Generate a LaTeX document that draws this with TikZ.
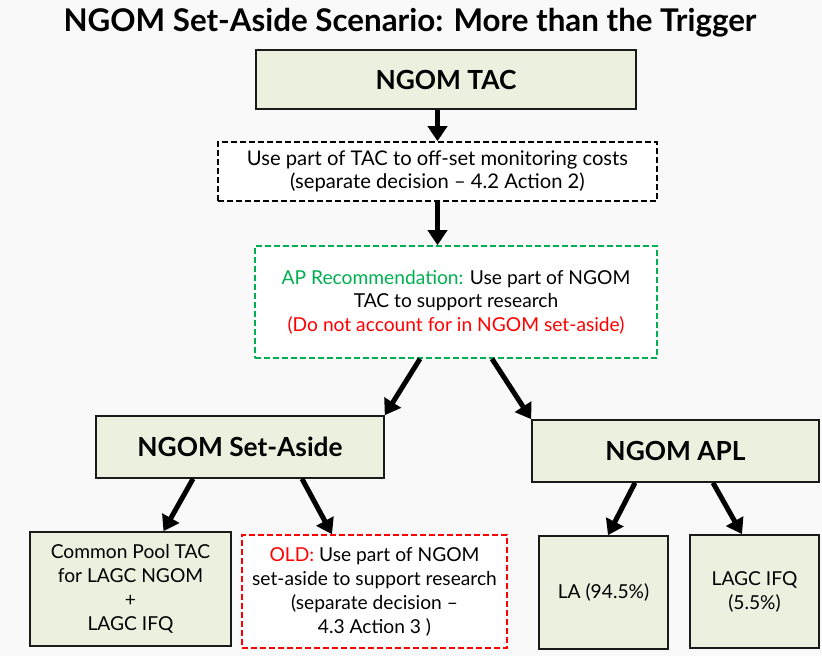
\documentclass[tikz,border=0pt]{standalone}
\usepackage{fontspec}
\setmainfont{Lato}
\usetikzlibrary{arrows.meta,calc}
\definecolor{boxfill}{HTML}{EBF1DE}
\definecolor{apgreen}{HTML}{00B050}
\definecolor{bgcol}{HTML}{F9F9F9}
\definecolor{edge}{HTML}{1A1A1A}
\begin{document}
\begin{tikzpicture}[x=1pt,y=-1pt,
  solidbox/.style={draw=edge, line width=1.6pt, fill=boxfill, inner sep=0pt, align=center},
  dashbox/.style={line width=1.6pt, fill=white, inner sep=0pt, align=center, dash pattern=on 6pt off 3pt},
  arr/.style={line width=5pt, -{Triangle[width=19pt,length=15pt]}},
  body/.style={font=\fontsize{19.2}{24}\selectfont},
  head/.style={font=\bfseries\fontsize{26.3}{30}\selectfont},
  ]
\fill[bgcol] (0,0) rectangle (822,656);
\useasboundingbox (0,0) rectangle (822,656);
\node[font=\bfseries\fontsize{31.3}{34}\selectfont] (title) at (410,23) {NGOM Set-Aside Scenario: More than the Trigger};
\node[solidbox, head, minimum width=380pt, minimum height=59pt] (tac) at (446,79.5) {NGOM TAC};
\node[dashbox, draw=black, font=\fontsize{20.2}{23.5}\selectfont, minimum width=439pt, minimum height=59pt] (mon) at (437.5,171.5) {Use part of TAC to off-set monitoring costs\\(separate decision -- 4.2 Action 2)};
\node[dashbox, draw=apgreen, font=\fontsize{19.2}{23.5}\selectfont, minimum width=402pt, minimum height=112pt] (ap) at (456,302) {\textcolor{apgreen}{AP Recommendation:} Use part of NGOM\\TAC to support research\\\textcolor{red}{(Do not account for in NGOM set-aside)}};
\node[solidbox, head, minimum width=288pt, minimum height=62pt] (sa) at (240,447) {NGOM Set-Aside};
\node[solidbox, head, minimum width=287pt, minimum height=62pt] (apl) at (675.5,451) {NGOM APL};
\node[solidbox, body, minimum width=201pt, minimum height=114pt] (cp) at (130.5,589) {Common Pool TAC\\for LAGC NGOM\\+\\LAGC IFQ};
\node[dashbox, draw=red, body, minimum width=265pt, minimum height=113pt] (old) at (374.5,591.5) {\textcolor{red}{OLD:} Use part of NGOM\\set-aside to support research\\(separate decision --\\4.3 Action 3 )};
\node[solidbox, body, minimum width=129pt, minimum height=113pt] (la) at (603.5,592.5) {LA (94.5\%)};
\node[solidbox, body, minimum width=129pt, minimum height=113pt] (ifq) at (754.5,591.5) {LAGC IFQ\\(5.5\%)};
\draw[arr] (tac.south -| mon.north) -- (mon.north);
\draw[arr] (mon.south) -- (mon.south |- ap.north);
\draw[arr] ([xshift=-36pt]ap.south) -- (sa.north east);
\draw[arr] ([xshift=36pt]ap.south) -- (apl.north west);
\draw[arr] ([xshift=-47pt]sa.south) -- ([xshift=33pt]cp.north);
\draw[arr] ([xshift=62pt]sa.south) -- ([xshift=-42.5pt]old.north);
\draw[arr] ([xshift=-40.5pt]apl.south) -- ([xshift=4.5pt]la.north);
\draw[arr] ([xshift=37.5pt]apl.south) -- ([xshift=-12.5pt]ifq.north);
\end{tikzpicture}
\end{document}
